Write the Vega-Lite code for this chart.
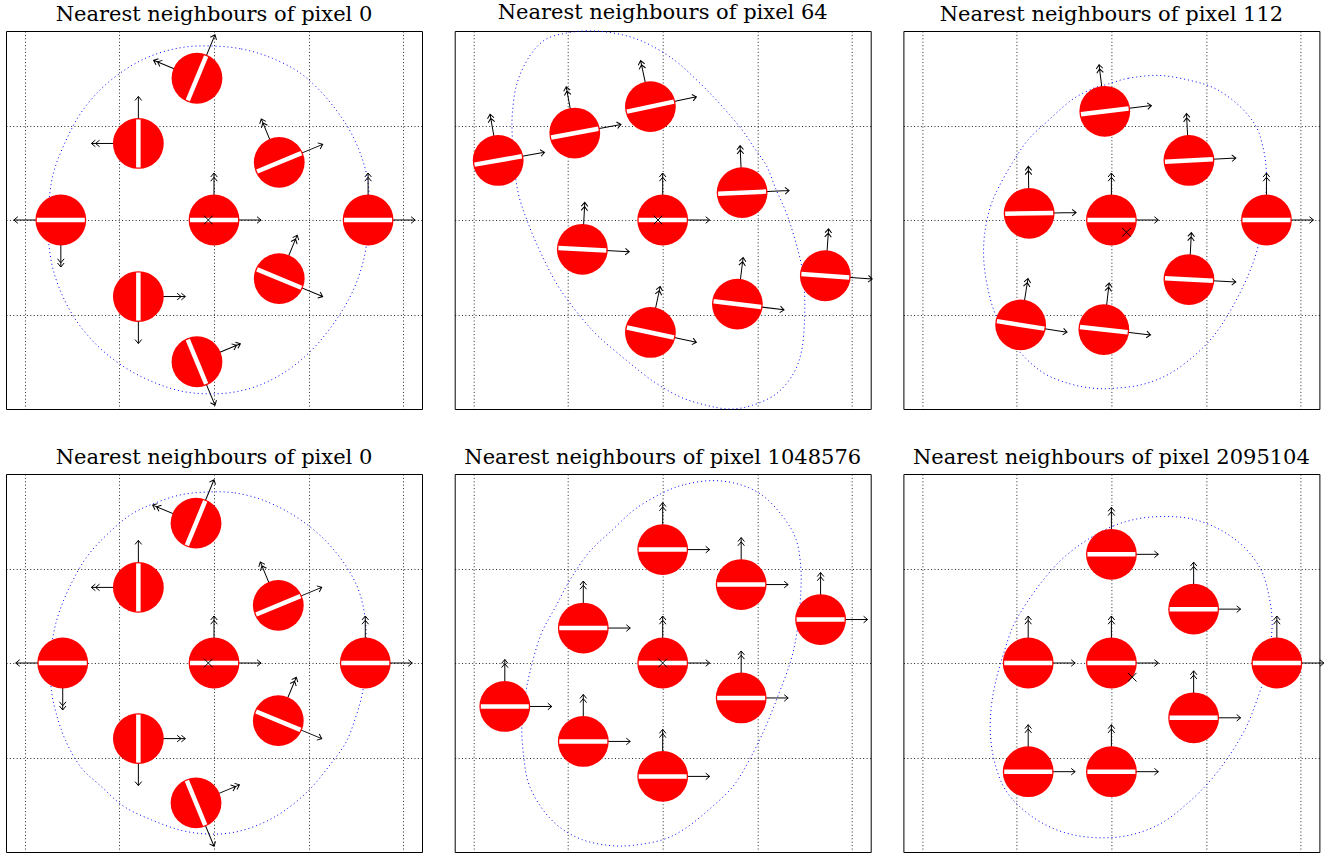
{
  "$schema": "https://vega.github.io/schema/vega-lite/v6.json",
  "background": "white",
  "padding": {"left": 5, "top": 1, "right": 0, "bottom": 0},
  "bounds": "flush",
  "config": {
    "view": {"stroke": "black", "strokeWidth": 1},
    "axis": {"labels": false, "ticks": false, "domain": false, "grid": true, "gridColor": "black", "gridDash": [1, 2.4], "gridWidth": 1, "gridOpacity": 0.85, "title": null},
    "title": {"font": "DejaVu Serif", "fontSize": 21, "fontWeight": "normal", "color": "black", "anchor": "middle", "offset": 6}
  },
  "columns": 3,
  "spacing": {"row": 65, "column": 32.7},
  "datasets": {
    "circles": [
      {"p": 1, "x": 0, "y": 0, "t": 0}, {"p": 1, "x": -1.62, "y": 0, "t": 180}, {"p": 1, "x": 1.63, "y": 0, "t": 0},
      {"p": 1, "x": -0.8, "y": 0.81, "t": 90}, {"p": 1, "x": -0.8, "y": -0.81, "t": 270}, {"p": 1, "x": -0.18, "y": 1.5, "t": 67.5},
      {"p": 1, "x": -0.18, "y": -1.5, "t": -67.5}, {"p": 1, "x": 0.69, "y": 0.61, "t": 22.5}, {"p": 1, "x": 0.69, "y": -0.62, "t": -22.5},
      {"p": 2, "x": 0, "y": 0, "t": 0}, {"p": 2, "x": -1.74, "y": 0.63, "t": 10}, {"p": 2, "x": -0.93, "y": 0.92, "t": 10.5},
      {"p": 2, "x": -0.13, "y": 1.2, "t": 12}, {"p": 2, "x": 0.84, "y": 0.29, "t": 2.5}, {"p": 2, "x": -0.85, "y": -0.31, "t": -3},
      {"p": 2, "x": -0.13, "y": -1.19, "t": -12}, {"p": 2, "x": 0.79, "y": -0.89, "t": -7}, {"p": 2, "x": 1.72, "y": -0.59, "t": -4},
      {"p": 3, "x": 0, "y": 0, "t": 0}, {"p": 3, "x": -0.87, "y": 0.07, "t": 1}, {"p": 3, "x": -0.07, "y": 1.15, "t": 7},
      {"p": 3, "x": 0.82, "y": 0.63, "t": 3}, {"p": 3, "x": 1.64, "y": 0, "t": 0}, {"p": 3, "x": 0.82, "y": -0.63, "t": -3},
      {"p": 3, "x": -0.96, "y": -1.11, "t": -9}, {"p": 3, "x": -0.08, "y": -1.16, "t": -6.5},
      {"p": 4, "x": 0, "y": 0, "t": 0}, {"p": 4, "x": -1.6, "y": 0, "t": 180}, {"p": 4, "x": 1.6, "y": 0, "t": 0},
      {"p": 4, "x": -0.8, "y": 0.8, "t": 90}, {"p": 4, "x": -0.8, "y": -0.8, "t": 270}, {"p": 4, "x": -0.19, "y": 1.48, "t": 67.5},
      {"p": 4, "x": -0.19, "y": -1.48, "t": -67.5}, {"p": 4, "x": 0.68, "y": 0.61, "t": 22.5}, {"p": 4, "x": 0.68, "y": -0.61, "t": -22.5},
      {"p": 5, "x": 0, "y": 1.2, "t": 0}, {"p": 5, "x": 0.83, "y": 0.83, "t": 0}, {"p": 5, "x": 1.67, "y": 0.46, "t": 0},
      {"p": 5, "x": -0.84, "y": 0.37, "t": 0}, {"p": 5, "x": 0, "y": 0, "t": 0}, {"p": 5, "x": 0.83, "y": -0.37, "t": 0},
      {"p": 5, "x": -1.67, "y": -0.46, "t": 0}, {"p": 5, "x": -0.84, "y": -0.83, "t": 0}, {"p": 5, "x": 0, "y": -1.2, "t": 0},
      {"p": 6, "x": 0, "y": 1.15, "t": 0}, {"p": 6, "x": 0.87, "y": 0.57, "t": 0}, {"p": 6, "x": -0.88, "y": 0, "t": 0},
      {"p": 6, "x": 0, "y": 0, "t": 0}, {"p": 6, "x": 1.75, "y": 0, "t": 0}, {"p": 6, "x": 0.87, "y": -0.58, "t": 0},
      {"p": 6, "x": -0.88, "y": -1.15, "t": 0}, {"p": 6, "x": 0, "y": -1.15, "t": 0}
    ],
    "crosses": [
      {"p": 1, "x": -0.06, "y": 0}, {"p": 2, "x": -0.05, "y": 0}, {"p": 3, "x": 0.16, "y": -0.13},
      {"p": 4, "x": -0.06, "y": 0}, {"p": 5, "x": 0, "y": 0}, {"p": 6, "x": 0.22, "y": -0.15}
    ],
    "curves": [
      {"p":1,"i":1,"x":0.01,"y":1.84},{"p":1,"i":2,"x":0.29,"y":1.81},{"p":1,"i":3,"x":0.57,"y":1.73},{"p":1,"i":4,"x":0.86,"y":1.59},
      {"p":1,"i":5,"x":1.08,"y":1.41},{"p":1,"i":6,"x":1.28,"y":1.18},{"p":1,"i":7,"x":1.44,"y":0.94},{"p":1,"i":8,"x":1.56,"y":0.67},
      {"p":1,"i":9,"x":1.63,"y":0.39},{"p":1,"i":10,"x":1.64,"y":0.07},{"p":1,"i":11,"x":1.61,"y":-0.28},{"p":1,"i":12,"x":1.54,"y":-0.57},
      {"p":1,"i":13,"x":1.42,"y":-0.85},{"p":1,"i":14,"x":1.24,"y":-1.13},{"p":1,"i":15,"x":1.03,"y":-1.38},{"p":1,"i":16,"x":0.78,"y":-1.59},
      {"p":1,"i":17,"x":0.5,"y":-1.74},{"p":1,"i":18,"x":0.22,"y":-1.82},{"p":1,"i":19,"x":-0.06,"y":-1.84},{"p":1,"i":20,"x":-0.35,"y":-1.81},
      {"p":1,"i":21,"x":-0.63,"y":-1.72},{"p":1,"i":22,"x":-0.91,"y":-1.58},{"p":1,"i":23,"x":-1.18,"y":-1.38},{"p":1,"i":24,"x":-1.41,"y":-1.13},
      {"p":1,"i":25,"x":-1.58,"y":-0.85},{"p":1,"i":26,"x":-1.7,"y":-0.53},{"p":1,"i":27,"x":-1.75,"y":-0.21},{"p":1,"i":28,"x":-1.75,"y":0.14},
      {"p":1,"i":29,"x":-1.7,"y":0.49},{"p":1,"i":30,"x":-1.58,"y":0.81},{"p":1,"i":31,"x":-1.41,"y":1.13},{"p":1,"i":32,"x":-1.18,"y":1.4},
      {"p":1,"i":33,"x":-0.91,"y":1.61},{"p":1,"i":34,"x":-0.63,"y":1.75},{"p":1,"i":35,"x":-0.31,"y":1.83},

      {"p":2,"i":1,"x":-1.01,"y":1.98},{"p":2,"i":2,"x":-0.81,"y":2.0},{"p":2,"i":3,"x":-0.6,"y":1.99},{"p":2,"i":4,"x":-0.35,"y":1.94},
      {"p":2,"i":5,"x":-0.11,"y":1.84},{"p":2,"i":6,"x":0.14,"y":1.68},{"p":2,"i":7,"x":0.34,"y":1.5},{"p":2,"i":8,"x":0.53,"y":1.31},
      {"p":2,"i":9,"x":0.71,"y":1.11},{"p":2,"i":10,"x":0.85,"y":0.94},{"p":2,"i":11,"x":0.97,"y":0.76},{"p":2,"i":12,"x":1.1,"y":0.57},
      {"p":2,"i":13,"x":1.2,"y":0.32},{"p":2,"i":14,"x":1.31,"y":0.07},{"p":2,"i":15,"x":1.4,"y":-0.21},{"p":2,"i":16,"x":1.47,"y":-0.49},
      {"p":2,"i":17,"x":1.5,"y":-0.78},{"p":2,"i":18,"x":1.5,"y":-1.06},{"p":2,"i":19,"x":1.47,"y":-1.38},{"p":2,"i":20,"x":1.38,"y":-1.63},
      {"p":2,"i":21,"x":1.2,"y":-1.84},{"p":2,"i":22,"x":0.95,"y":-1.96},{"p":2,"i":23,"x":0.71,"y":-2.0},{"p":2,"i":24,"x":0.46,"y":-1.96},
      {"p":2,"i":25,"x":0.18,"y":-1.87},{"p":2,"i":26,"x":-0.11,"y":-1.7},{"p":2,"i":27,"x":-0.39,"y":-1.48},{"p":2,"i":28,"x":-0.67,"y":-1.24},
      {"p":2,"i":29,"x":-0.88,"y":-1.01},{"p":2,"i":30,"x":-1.1,"y":-0.71},{"p":2,"i":31,"x":-1.27,"y":-0.39},{"p":2,"i":32,"x":-1.41,"y":-0.07},
      {"p":2,"i":33,"x":-1.52,"y":0.25},{"p":2,"i":34,"x":-1.57,"y":0.57},{"p":2,"i":35,"x":-1.59,"y":0.85},{"p":2,"i":36,"x":-1.59,"y":1.13},
      {"p":2,"i":37,"x":-1.54,"y":1.45},{"p":2,"i":38,"x":-1.41,"y":1.73},{"p":2,"i":39,"x":-1.24,"y":1.91},

      {"p":3,"i":1,"x":-0.03,"y":1.44},{"p":3,"i":2,"x":0.18,"y":1.5},{"p":3,"i":3,"x":0.5,"y":1.53},{"p":3,"i":4,"x":0.82,"y":1.48},
      {"p":3,"i":5,"x":1.1,"y":1.39},{"p":3,"i":6,"x":1.35,"y":1.21},{"p":3,"i":7,"x":1.53,"y":0.99},{"p":3,"i":8,"x":1.61,"y":0.74},
      {"p":3,"i":9,"x":1.64,"y":0.49},{"p":3,"i":10,"x":1.63,"y":0.21},{"p":3,"i":11,"x":1.59,"y":-0.11},{"p":3,"i":12,"x":1.51,"y":-0.42},
      {"p":3,"i":13,"x":1.39,"y":-0.71},{"p":3,"i":14,"x":1.24,"y":-0.99},{"p":3,"i":15,"x":1.07,"y":-1.24},{"p":3,"i":16,"x":0.86,"y":-1.45},
      {"p":3,"i":17,"x":0.61,"y":-1.63},{"p":3,"i":18,"x":0.33,"y":-1.74},{"p":3,"i":19,"x":0.04,"y":-1.78},{"p":3,"i":20,"x":-0.2,"y":-1.78},
      {"p":3,"i":21,"x":-0.45,"y":-1.73},{"p":3,"i":22,"x":-0.7,"y":-1.63},{"p":3,"i":23,"x":-0.91,"y":-1.46},{"p":3,"i":24,"x":-1.09,"y":-1.24},
      {"p":3,"i":25,"x":-1.23,"y":-0.99},{"p":3,"i":26,"x":-1.31,"y":-0.71},{"p":3,"i":27,"x":-1.35,"y":-0.42},{"p":3,"i":28,"x":-1.34,"y":-0.14},
      {"p":3,"i":29,"x":-1.28,"y":0.14},{"p":3,"i":30,"x":-1.19,"y":0.35},{"p":3,"i":31,"x":-1.05,"y":0.6},{"p":3,"i":32,"x":-0.88,"y":0.85},
      {"p":3,"i":33,"x":-0.66,"y":1.06},{"p":3,"i":34,"x":-0.42,"y":1.27},{"p":3,"i":35,"x":-0.2,"y":1.39},

      {"p":4,"i":1,"x":-0.06,"y":1.81},{"p":4,"i":2,"x":0.22,"y":1.8},{"p":4,"i":3,"x":0.5,"y":1.73},{"p":4,"i":4,"x":0.78,"y":1.6},
      {"p":4,"i":5,"x":1.03,"y":1.43},{"p":4,"i":6,"x":1.24,"y":1.23},{"p":4,"i":7,"x":1.42,"y":0.99},{"p":4,"i":8,"x":1.54,"y":0.74},
      {"p":4,"i":9,"x":1.6,"y":0.46},{"p":4,"i":10,"x":1.61,"y":0.17},{"p":4,"i":11,"x":1.6,"y":-0.11},{"p":4,"i":12,"x":1.56,"y":-0.36},
      {"p":4,"i":13,"x":1.49,"y":-0.6},{"p":4,"i":14,"x":1.39,"y":-0.85},{"p":4,"i":15,"x":1.21,"y":-1.1},{"p":4,"i":16,"x":1.0,"y":-1.35},
      {"p":4,"i":17,"x":0.75,"y":-1.56},{"p":4,"i":18,"x":0.5,"y":-1.7},{"p":4,"i":19,"x":0.22,"y":-1.79},{"p":4,"i":20,"x":-0.06,"y":-1.81},
      {"p":4,"i":21,"x":-0.35,"y":-1.77},{"p":4,"i":22,"x":-0.66,"y":-1.66},{"p":4,"i":23,"x":-0.95,"y":-1.52},{"p":4,"i":24,"x":-1.19,"y":-1.31},
      {"p":4,"i":25,"x":-1.41,"y":-1.1},{"p":4,"i":26,"x":-1.57,"y":-0.82},{"p":4,"i":27,"x":-1.67,"y":-0.53},{"p":4,"i":28,"x":-1.72,"y":-0.29},
      {"p":4,"i":29,"x":-1.73,"y":-0.04},{"p":4,"i":30,"x":-1.71,"y":0.24},{"p":4,"i":31,"x":-1.64,"y":0.53},{"p":4,"i":32,"x":-1.51,"y":0.84},
      {"p":4,"i":33,"x":-1.34,"y":1.13},{"p":4,"i":34,"x":-1.12,"y":1.37},{"p":4,"i":35,"x":-0.88,"y":1.57},{"p":4,"i":36,"x":-0.63,"y":1.69},
      {"p":4,"i":37,"x":-0.35,"y":1.78},

      {"p":5,"i":1,"x":0.0,"y":1.8},{"p":5,"i":2,"x":0.24,"y":1.89},{"p":5,"i":3,"x":0.53,"y":1.93},{"p":5,"i":4,"x":0.81,"y":1.89},
      {"p":5,"i":5,"x":1.06,"y":1.77},{"p":5,"i":6,"x":1.27,"y":1.55},{"p":5,"i":7,"x":1.41,"y":1.31},{"p":5,"i":8,"x":1.46,"y":1.02},
      {"p":5,"i":9,"x":1.46,"y":0.74},{"p":5,"i":10,"x":1.43,"y":0.39},{"p":5,"i":11,"x":1.36,"y":0.04},{"p":5,"i":12,"x":1.23,"y":-0.32},
      {"p":5,"i":13,"x":1.09,"y":-0.67},{"p":5,"i":14,"x":0.92,"y":-1.02},{"p":5,"i":15,"x":0.74,"y":-1.31},{"p":5,"i":16,"x":0.49,"y":-1.55},
      {"p":5,"i":17,"x":0.24,"y":-1.75},{"p":5,"i":18,"x":0.0,"y":-1.87},{"p":5,"i":19,"x":-0.32,"y":-1.93},{"p":5,"i":20,"x":-0.57,"y":-1.93},
      {"p":5,"i":21,"x":-0.85,"y":-1.87},{"p":5,"i":22,"x":-1.1,"y":-1.73},{"p":5,"i":23,"x":-1.29,"y":-1.52},{"p":5,"i":24,"x":-1.42,"y":-1.27},
      {"p":5,"i":25,"x":-1.47,"y":-0.99},{"p":5,"i":26,"x":-1.49,"y":-0.67},{"p":5,"i":27,"x":-1.45,"y":-0.32},{"p":5,"i":28,"x":-1.38,"y":0.0},
      {"p":5,"i":29,"x":-1.28,"y":0.32},{"p":5,"i":30,"x":-1.13,"y":0.6},{"p":5,"i":31,"x":-0.98,"y":0.88},{"p":5,"i":32,"x":-0.78,"y":1.17},
      {"p":5,"i":33,"x":-0.53,"y":1.41},{"p":5,"i":34,"x":-0.29,"y":1.63},

      {"p":6,"i":1,"x":-0.26,"y":1.3},{"p":6,"i":2,"x":0.02,"y":1.45},{"p":6,"i":3,"x":0.3,"y":1.53},{"p":6,"i":4,"x":0.59,"y":1.55},
      {"p":6,"i":5,"x":0.87,"y":1.52},{"p":6,"i":6,"x":1.15,"y":1.41},{"p":6,"i":7,"x":1.4,"y":1.23},{"p":6,"i":8,"x":1.58,"y":0.99},
      {"p":6,"i":9,"x":1.66,"y":0.74},{"p":6,"i":10,"x":1.7,"y":0.46},{"p":6,"i":11,"x":1.68,"y":0.17},{"p":6,"i":12,"x":1.63,"y":-0.11},
      {"p":6,"i":13,"x":1.54,"y":-0.39},{"p":6,"i":14,"x":1.43,"y":-0.67},{"p":6,"i":15,"x":1.26,"y":-0.96},{"p":6,"i":16,"x":1.05,"y":-1.24},
      {"p":6,"i":17,"x":0.8,"y":-1.49},{"p":6,"i":18,"x":0.52,"y":-1.7},{"p":6,"i":19,"x":0.2,"y":-1.82},{"p":6,"i":20,"x":-0.12,"y":-1.85},
      {"p":6,"i":21,"x":-0.44,"y":-1.81},{"p":6,"i":22,"x":-0.72,"y":-1.7},{"p":6,"i":23,"x":-0.97,"y":-1.52},{"p":6,"i":24,"x":-1.14,"y":-1.31},
      {"p":6,"i":25,"x":-1.24,"y":-1.03},{"p":6,"i":26,"x":-1.28,"y":-0.75},{"p":6,"i":27,"x":-1.27,"y":-0.46},{"p":6,"i":28,"x":-1.22,"y":-0.18},
      {"p":6,"i":29,"x":-1.14,"y":0.1},{"p":6,"i":30,"x":-1.04,"y":0.39},{"p":6,"i":31,"x":-0.9,"y":0.63},{"p":6,"i":32,"x":-0.72,"y":0.88},
      {"p":6,"i":33,"x":-0.51,"y":1.11}
    ]
  },
  "concat": [
    {
      "title": "Nearest neighbours of pixel 0", "width": 416, "height": 378,
      "layer": [
        {"data": {"name": "curves"}, "transform": [{"filter": "datum.p == 1"}], "mark": {"type": "line", "interpolate": "cardinal-closed", "color": "blue", "strokeWidth": 1, "strokeDash": [1, 3]},
         "encoding": {"x": {"field": "x", "type": "quantitative", "scale": {"domain": [-2.2, 2.2], "nice": false, "zero": false}, "axis": {"values": [-2, -1, 0, 1, 2]}},
                      "y": {"field": "y", "type": "quantitative", "scale": {"domain": [-2, 2], "nice": false, "zero": false}, "axis": {"values": [-1, 0, 1]}},
                      "order": {"field": "i", "type": "quantitative"}}},
        {"data": {"name": "circles"}, "transform": [{"filter": "datum.p == 1"}], "mark": {"type": "point", "shape": "M0,0H1M0.915,-0.07L1,0L0.915,0.07", "size": 8836, "filled": false, "stroke": "black", "strokeWidth": 1, "opacity": 1},
         "encoding": {"x": {"field": "x", "type": "quantitative"}, "y": {"field": "y", "type": "quantitative"}, "angle": {"field": "t", "type": "quantitative", "scale": {"domain": [0, 360], "range": [0, -360], "nice": false, "zero": false}, "legend": null}}},
        {"data": {"name": "circles"}, "transform": [{"filter": "datum.p == 1"}], "mark": {"type": "point", "shape": "M0,0V-1M-0.07,-0.915L0,-1L0.07,-0.915M-0.07,-0.825L0,-0.91L0.07,-0.825", "size": 8836, "filled": false, "stroke": "black", "strokeWidth": 1, "opacity": 1},
         "encoding": {"x": {"field": "x", "type": "quantitative"}, "y": {"field": "y", "type": "quantitative"}, "angle": {"field": "t", "type": "quantitative"}}},
        {"data": {"name": "circles"}, "transform": [{"filter": "datum.p == 1"}], "mark": {"type": "circle", "size": 2580, "color": "#ff0000", "opacity": 1},
         "encoding": {"x": {"field": "x", "type": "quantitative"}, "y": {"field": "y", "type": "quantitative"}}},
        {"data": {"name": "circles"}, "transform": [{"filter": "datum.p == 1"}], "mark": {"type": "point", "shape": "M-1,0H1", "size": 2304, "filled": false, "stroke": "white", "strokeWidth": 4.5, "strokeCap": "butt", "opacity": 1},
         "encoding": {"x": {"field": "x", "type": "quantitative"}, "y": {"field": "y", "type": "quantitative"}, "angle": {"field": "t", "type": "quantitative"}}},
        {"data": {"name": "crosses"}, "transform": [{"filter": "datum.p == 1"}], "mark": {"type": "point", "shape": "M-1,-1L1,1M-1,1L1,-1", "size": 75, "filled": false, "stroke": "black", "strokeWidth": 1, "opacity": 1},
         "encoding": {"x": {"field": "x", "type": "quantitative"}, "y": {"field": "y", "type": "quantitative"}}}
      ]
    },
    {
      "title": "Nearest neighbours of pixel 64", "width": 416, "height": 378,
      "layer": [
        {"data": {"name": "curves"}, "transform": [{"filter": "datum.p == 2"}], "mark": {"type": "line", "interpolate": "cardinal-closed", "color": "blue", "strokeWidth": 1, "strokeDash": [1, 3]},
         "encoding": {"x": {"field": "x", "type": "quantitative", "scale": {"domain": [-2.2, 2.2], "nice": false, "zero": false}, "axis": {"values": [-2, -1, 0, 1, 2]}},
                      "y": {"field": "y", "type": "quantitative", "scale": {"domain": [-2, 2], "nice": false, "zero": false}, "axis": {"values": [-1, 0, 1]}},
                      "order": {"field": "i", "type": "quantitative"}}},
        {"data": {"name": "circles"}, "transform": [{"filter": "datum.p == 2"}], "mark": {"type": "point", "shape": "M0,0H1M0.915,-0.07L1,0L0.915,0.07", "size": 8836, "filled": false, "stroke": "black", "strokeWidth": 1, "opacity": 1},
         "encoding": {"x": {"field": "x", "type": "quantitative"}, "y": {"field": "y", "type": "quantitative"}, "angle": {"field": "t", "type": "quantitative", "scale": {"domain": [0, 360], "range": [0, -360], "nice": false, "zero": false}, "legend": null}}},
        {"data": {"name": "circles"}, "transform": [{"filter": "datum.p == 2"}], "mark": {"type": "point", "shape": "M0,0V-1M-0.07,-0.915L0,-1L0.07,-0.915M-0.07,-0.825L0,-0.91L0.07,-0.825", "size": 8836, "filled": false, "stroke": "black", "strokeWidth": 1, "opacity": 1},
         "encoding": {"x": {"field": "x", "type": "quantitative"}, "y": {"field": "y", "type": "quantitative"}, "angle": {"field": "t", "type": "quantitative"}}},
        {"data": {"name": "circles"}, "transform": [{"filter": "datum.p == 2"}], "mark": {"type": "circle", "size": 2580, "color": "#ff0000", "opacity": 1},
         "encoding": {"x": {"field": "x", "type": "quantitative"}, "y": {"field": "y", "type": "quantitative"}}},
        {"data": {"name": "circles"}, "transform": [{"filter": "datum.p == 2"}], "mark": {"type": "point", "shape": "M-1,0H1", "size": 2304, "filled": false, "stroke": "white", "strokeWidth": 4.5, "strokeCap": "butt", "opacity": 1},
         "encoding": {"x": {"field": "x", "type": "quantitative"}, "y": {"field": "y", "type": "quantitative"}, "angle": {"field": "t", "type": "quantitative"}}},
        {"data": {"name": "crosses"}, "transform": [{"filter": "datum.p == 2"}], "mark": {"type": "point", "shape": "M-1,-1L1,1M-1,1L1,-1", "size": 75, "filled": false, "stroke": "black", "strokeWidth": 1, "opacity": 1},
         "encoding": {"x": {"field": "x", "type": "quantitative"}, "y": {"field": "y", "type": "quantitative"}}}
      ]
    },
    {
      "title": "Nearest neighbours of pixel 112", "width": 416, "height": 378,
      "layer": [
        {"data": {"name": "curves"}, "transform": [{"filter": "datum.p == 3"}], "mark": {"type": "line", "interpolate": "cardinal-closed", "color": "blue", "strokeWidth": 1, "strokeDash": [1, 3]},
         "encoding": {"x": {"field": "x", "type": "quantitative", "scale": {"domain": [-2.2, 2.2], "nice": false, "zero": false}, "axis": {"values": [-2, -1, 0, 1, 2]}},
                      "y": {"field": "y", "type": "quantitative", "scale": {"domain": [-2, 2], "nice": false, "zero": false}, "axis": {"values": [-1, 0, 1]}},
                      "order": {"field": "i", "type": "quantitative"}}},
        {"data": {"name": "circles"}, "transform": [{"filter": "datum.p == 3"}], "mark": {"type": "point", "shape": "M0,0H1M0.915,-0.07L1,0L0.915,0.07", "size": 8836, "filled": false, "stroke": "black", "strokeWidth": 1, "opacity": 1},
         "encoding": {"x": {"field": "x", "type": "quantitative"}, "y": {"field": "y", "type": "quantitative"}, "angle": {"field": "t", "type": "quantitative", "scale": {"domain": [0, 360], "range": [0, -360], "nice": false, "zero": false}, "legend": null}}},
        {"data": {"name": "circles"}, "transform": [{"filter": "datum.p == 3"}], "mark": {"type": "point", "shape": "M0,0V-1M-0.07,-0.915L0,-1L0.07,-0.915M-0.07,-0.825L0,-0.91L0.07,-0.825", "size": 8836, "filled": false, "stroke": "black", "strokeWidth": 1, "opacity": 1},
         "encoding": {"x": {"field": "x", "type": "quantitative"}, "y": {"field": "y", "type": "quantitative"}, "angle": {"field": "t", "type": "quantitative"}}},
        {"data": {"name": "circles"}, "transform": [{"filter": "datum.p == 3"}], "mark": {"type": "circle", "size": 2580, "color": "#ff0000", "opacity": 1},
         "encoding": {"x": {"field": "x", "type": "quantitative"}, "y": {"field": "y", "type": "quantitative"}}},
        {"data": {"name": "circles"}, "transform": [{"filter": "datum.p == 3"}], "mark": {"type": "point", "shape": "M-1,0H1", "size": 2304, "filled": false, "stroke": "white", "strokeWidth": 4.5, "strokeCap": "butt", "opacity": 1},
         "encoding": {"x": {"field": "x", "type": "quantitative"}, "y": {"field": "y", "type": "quantitative"}, "angle": {"field": "t", "type": "quantitative"}}},
        {"data": {"name": "crosses"}, "transform": [{"filter": "datum.p == 3"}], "mark": {"type": "point", "shape": "M-1,-1L1,1M-1,1L1,-1", "size": 75, "filled": false, "stroke": "black", "strokeWidth": 1, "opacity": 1},
         "encoding": {"x": {"field": "x", "type": "quantitative"}, "y": {"field": "y", "type": "quantitative"}}}
      ]
    },
    {
      "title": "Nearest neighbours of pixel 0", "width": 416, "height": 378,
      "layer": [
        {"data": {"name": "curves"}, "transform": [{"filter": "datum.p == 4"}], "mark": {"type": "line", "interpolate": "cardinal-closed", "color": "blue", "strokeWidth": 1, "strokeDash": [1, 3]},
         "encoding": {"x": {"field": "x", "type": "quantitative", "scale": {"domain": [-2.2, 2.2], "nice": false, "zero": false}, "axis": {"values": [-2, -1, 0, 1, 2]}},
                      "y": {"field": "y", "type": "quantitative", "scale": {"domain": [-2, 2], "nice": false, "zero": false}, "axis": {"values": [-1, 0, 1]}},
                      "order": {"field": "i", "type": "quantitative"}}},
        {"data": {"name": "circles"}, "transform": [{"filter": "datum.p == 4"}], "mark": {"type": "point", "shape": "M0,0H1M0.915,-0.07L1,0L0.915,0.07", "size": 8836, "filled": false, "stroke": "black", "strokeWidth": 1, "opacity": 1},
         "encoding": {"x": {"field": "x", "type": "quantitative"}, "y": {"field": "y", "type": "quantitative"}, "angle": {"field": "t", "type": "quantitative", "scale": {"domain": [0, 360], "range": [0, -360], "nice": false, "zero": false}, "legend": null}}},
        {"data": {"name": "circles"}, "transform": [{"filter": "datum.p == 4"}], "mark": {"type": "point", "shape": "M0,0V-1M-0.07,-0.915L0,-1L0.07,-0.915M-0.07,-0.825L0,-0.91L0.07,-0.825", "size": 8836, "filled": false, "stroke": "black", "strokeWidth": 1, "opacity": 1},
         "encoding": {"x": {"field": "x", "type": "quantitative"}, "y": {"field": "y", "type": "quantitative"}, "angle": {"field": "t", "type": "quantitative"}}},
        {"data": {"name": "circles"}, "transform": [{"filter": "datum.p == 4"}], "mark": {"type": "circle", "size": 2580, "color": "#ff0000", "opacity": 1},
         "encoding": {"x": {"field": "x", "type": "quantitative"}, "y": {"field": "y", "type": "quantitative"}}},
        {"data": {"name": "circles"}, "transform": [{"filter": "datum.p == 4"}], "mark": {"type": "point", "shape": "M-1,0H1", "size": 2304, "filled": false, "stroke": "white", "strokeWidth": 4.5, "strokeCap": "butt", "opacity": 1},
         "encoding": {"x": {"field": "x", "type": "quantitative"}, "y": {"field": "y", "type": "quantitative"}, "angle": {"field": "t", "type": "quantitative"}}},
        {"data": {"name": "crosses"}, "transform": [{"filter": "datum.p == 4"}], "mark": {"type": "point", "shape": "M-1,-1L1,1M-1,1L1,-1", "size": 75, "filled": false, "stroke": "black", "strokeWidth": 1, "opacity": 1},
         "encoding": {"x": {"field": "x", "type": "quantitative"}, "y": {"field": "y", "type": "quantitative"}}}
      ]
    },
    {
      "title": "Nearest neighbours of pixel 1048576", "width": 416, "height": 378,
      "layer": [
        {"data": {"name": "curves"}, "transform": [{"filter": "datum.p == 5"}], "mark": {"type": "line", "interpolate": "cardinal-closed", "color": "blue", "strokeWidth": 1, "strokeDash": [1, 3]},
         "encoding": {"x": {"field": "x", "type": "quantitative", "scale": {"domain": [-2.2, 2.2], "nice": false, "zero": false}, "axis": {"values": [-2, -1, 0, 1, 2]}},
                      "y": {"field": "y", "type": "quantitative", "scale": {"domain": [-2, 2], "nice": false, "zero": false}, "axis": {"values": [-1, 0, 1]}},
                      "order": {"field": "i", "type": "quantitative"}}},
        {"data": {"name": "circles"}, "transform": [{"filter": "datum.p == 5"}], "mark": {"type": "point", "shape": "M0,0H1M0.915,-0.07L1,0L0.915,0.07", "size": 8836, "filled": false, "stroke": "black", "strokeWidth": 1, "opacity": 1},
         "encoding": {"x": {"field": "x", "type": "quantitative"}, "y": {"field": "y", "type": "quantitative"}, "angle": {"field": "t", "type": "quantitative", "scale": {"domain": [0, 360], "range": [0, -360], "nice": false, "zero": false}, "legend": null}}},
        {"data": {"name": "circles"}, "transform": [{"filter": "datum.p == 5"}], "mark": {"type": "point", "shape": "M0,0V-1M-0.07,-0.915L0,-1L0.07,-0.915M-0.07,-0.825L0,-0.91L0.07,-0.825", "size": 8836, "filled": false, "stroke": "black", "strokeWidth": 1, "opacity": 1},
         "encoding": {"x": {"field": "x", "type": "quantitative"}, "y": {"field": "y", "type": "quantitative"}, "angle": {"field": "t", "type": "quantitative"}}},
        {"data": {"name": "circles"}, "transform": [{"filter": "datum.p == 5"}], "mark": {"type": "circle", "size": 2580, "color": "#ff0000", "opacity": 1},
         "encoding": {"x": {"field": "x", "type": "quantitative"}, "y": {"field": "y", "type": "quantitative"}}},
        {"data": {"name": "circles"}, "transform": [{"filter": "datum.p == 5"}], "mark": {"type": "point", "shape": "M-1,0H1", "size": 2304, "filled": false, "stroke": "white", "strokeWidth": 4.5, "strokeCap": "butt", "opacity": 1},
         "encoding": {"x": {"field": "x", "type": "quantitative"}, "y": {"field": "y", "type": "quantitative"}, "angle": {"field": "t", "type": "quantitative"}}},
        {"data": {"name": "crosses"}, "transform": [{"filter": "datum.p == 5"}], "mark": {"type": "point", "shape": "M-1,-1L1,1M-1,1L1,-1", "size": 75, "filled": false, "stroke": "black", "strokeWidth": 1, "opacity": 1},
         "encoding": {"x": {"field": "x", "type": "quantitative"}, "y": {"field": "y", "type": "quantitative"}}}
      ]
    },
    {
      "title": "Nearest neighbours of pixel 2095104", "width": 416, "height": 378,
      "layer": [
        {"data": {"name": "curves"}, "transform": [{"filter": "datum.p == 6"}], "mark": {"type": "line", "interpolate": "cardinal-closed", "color": "blue", "strokeWidth": 1, "strokeDash": [1, 3]},
         "encoding": {"x": {"field": "x", "type": "quantitative", "scale": {"domain": [-2.2, 2.2], "nice": false, "zero": false}, "axis": {"values": [-2, -1, 0, 1, 2]}},
                      "y": {"field": "y", "type": "quantitative", "scale": {"domain": [-2, 2], "nice": false, "zero": false}, "axis": {"values": [-1, 0, 1]}},
                      "order": {"field": "i", "type": "quantitative"}}},
        {"data": {"name": "circles"}, "transform": [{"filter": "datum.p == 6"}], "mark": {"type": "point", "shape": "M0,0H1M0.915,-0.07L1,0L0.915,0.07", "size": 8836, "filled": false, "stroke": "black", "strokeWidth": 1, "opacity": 1},
         "encoding": {"x": {"field": "x", "type": "quantitative"}, "y": {"field": "y", "type": "quantitative"}, "angle": {"field": "t", "type": "quantitative", "scale": {"domain": [0, 360], "range": [0, -360], "nice": false, "zero": false}, "legend": null}}},
        {"data": {"name": "circles"}, "transform": [{"filter": "datum.p == 6"}], "mark": {"type": "point", "shape": "M0,0V-1M-0.07,-0.915L0,-1L0.07,-0.915M-0.07,-0.825L0,-0.91L0.07,-0.825", "size": 8836, "filled": false, "stroke": "black", "strokeWidth": 1, "opacity": 1},
         "encoding": {"x": {"field": "x", "type": "quantitative"}, "y": {"field": "y", "type": "quantitative"}, "angle": {"field": "t", "type": "quantitative"}}},
        {"data": {"name": "circles"}, "transform": [{"filter": "datum.p == 6"}], "mark": {"type": "circle", "size": 2580, "color": "#ff0000", "opacity": 1},
         "encoding": {"x": {"field": "x", "type": "quantitative"}, "y": {"field": "y", "type": "quantitative"}}},
        {"data": {"name": "circles"}, "transform": [{"filter": "datum.p == 6"}], "mark": {"type": "point", "shape": "M-1,0H1", "size": 2304, "filled": false, "stroke": "white", "strokeWidth": 4.5, "strokeCap": "butt", "opacity": 1},
         "encoding": {"x": {"field": "x", "type": "quantitative"}, "y": {"field": "y", "type": "quantitative"}, "angle": {"field": "t", "type": "quantitative"}}},
        {"data": {"name": "crosses"}, "transform": [{"filter": "datum.p == 6"}], "mark": {"type": "point", "shape": "M-1,-1L1,1M-1,1L1,-1", "size": 75, "filled": false, "stroke": "black", "strokeWidth": 1, "opacity": 1},
         "encoding": {"x": {"field": "x", "type": "quantitative"}, "y": {"field": "y", "type": "quantitative"}}}
      ]
    }
  ]
}
